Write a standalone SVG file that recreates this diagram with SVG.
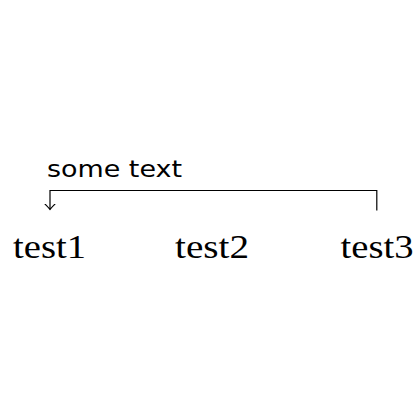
<svg xmlns="http://www.w3.org/2000/svg" width="420" height="420" viewBox="0 0 420 420">
<defs>
<style>
.lbl{font-family:"Liberation Serif","DejaVu Serif",serif;font-size:33px;fill:#000;text-anchor:middle}
.edge{fill:none;stroke:#000;stroke-width:1.2}
.etxt{font-family:"DejaVu Sans","Liberation Sans",sans-serif;font-size:23px;fill:#000}
</style>
<marker id="to" viewBox="-6 -6 8 12" markerWidth="8" markerHeight="12" refX="0" refY="0" orient="auto" markerUnits="userSpaceOnUse">
<path d="M-5.5,-5 Q-1.5,-1 0,0 Q-1.5,1 -5.5,5" fill="none" stroke="#000" stroke-width="1.1" stroke-linecap="round"/>
</marker>
</defs>
<rect width="420" height="420" fill="#fff"/>
<g id="test1"><text class="lbl" x="49.5" y="258" textLength="73" lengthAdjust="spacingAndGlyphs">test1</text></g>
<g id="test2"><text class="lbl" x="212" y="258" textLength="74" lengthAdjust="spacingAndGlyphs">test2</text></g>
<g id="test3"><text class="lbl" x="377" y="258" textLength="73" lengthAdjust="spacingAndGlyphs">test3</text></g>
<g id="connectors">
<path class="edge" d="M376.8,210.5 V190.5 H50 V209.5" marker-end="url(#to)"/>
<text class="etxt" x="47" y="177" textLength="135" lengthAdjust="spacingAndGlyphs">some text</text>
</g>
</svg>
